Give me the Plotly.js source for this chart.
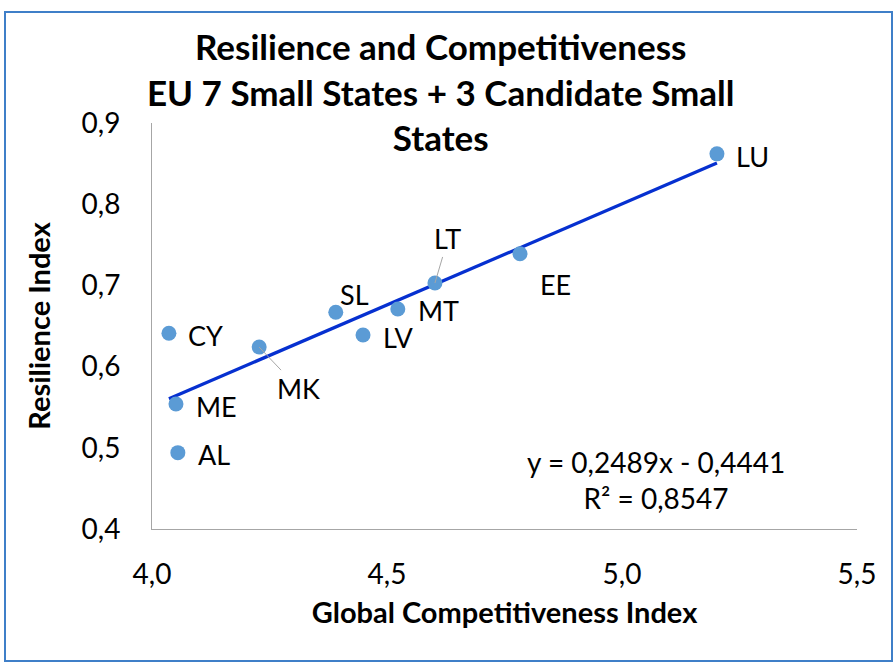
<!DOCTYPE html>
<html>
<head>
<meta charset="utf-8">
<script src="https://cdn.plot.ly/plotly-3.0.1.min.js"></script>
<style>
  html, body { margin: 0; padding: 0; background: #ffffff; }
  #chart { width: 894px; height: 664px; }
</style>
</head>
<body>
<div id="chart"></div>
<script>
// country codes and their two indices
var countries = [ 'CY', 'ME', 'AL', 'MK', 'SL', 'LV', 'MT', 'LT', 'EE', 'LU' ];
var gci = [ 4.036, 4.051, 4.055, 4.228, 4.391, 4.449, 4.523, 4.602, 4.783, 5.202 ];
var resilience = [ 0.641, 0.554, 0.494, 0.624, 0.667, 0.639, 0.671, 0.703, 0.739, 0.862 ];

// linear trendline as printed on the chart
var slope = 0.2489;
var intercept = -0.4441;
var r_squared = 0.8547;

var FONT = 'Lato, "Open Sans", sans-serif';

// margins in pixels, plot area 152..857 x 123..529
var W = 894, H = 664;
var M = { l: 152, r: 37, t: 123, b: 135 };
var pw = W - M.l - M.r;
var ph = H - M.t - M.b;

function px( x ) { return ( x - M.l ) / pw; }
function py( y ) { return ( H - M.b - y ) / ph; }

var x_min = Math.min.apply( null, gci );
var x_max = Math.max.apply( null, gci );

var points =
{
    type: 'scatter',
    mode: 'markers',
    x: gci,
    y: resilience,
    marker: { size: 15, color: '#5b9bd5' },
    hoverinfo: 'text',
    text: countries
};

var trend =
{
    type: 'scatter',
    mode: 'lines',
    x: [ x_min, x_max ],
    y: [ slope * x_min + intercept, slope * x_max + intercept ],
    line: { color: '#0630d0', width: 3.25 },
    hoverinfo: 'skip'
};

// label placement per country: [xshift, yshift] or leader line offsets
var label_offsets =
{
    CY: [ 17, -2 ], ME: [ 18, -3 ], AL: [ 18, -2 ], SL: [ 2, 18 ],
    LV: [ 18, -3 ], MT: [ 18, -2 ], EE: [ 18, -31 ], LU: [ 17, -3 ]
};
var leader_offsets = { MK: [ 39, 41 ], LT: [ 13, -44 ] };

var annotations = [];
for ( var i = 0; i < countries.length; i++ )
{
    var c = countries[ i ];
    if ( leader_offsets[ c ] )
    {
        annotations.push(
            {
                x: gci[ i ], y: resilience[ i ], xref: 'x', yref: 'y',
                text: c, showarrow: true, arrowhead: 0, arrowwidth: 1,
                arrowcolor: '#a6a6a6', standoff: 0,
                ax: leader_offsets[ c ][ 0 ], ay: leader_offsets[ c ][ 1 ],
                font: { family: FONT, size: 27, color: '#000000' }
            }
        );
    }
    else
    {
        annotations.push(
            {
                x: gci[ i ], y: resilience[ i ], xref: 'x', yref: 'y',
                text: c, showarrow: false, xanchor: 'left',
                xshift: label_offsets[ c ][ 0 ], yshift: label_offsets[ c ][ 1 ],
                font: { family: FONT, size: 27, color: '#000000' }
            }
        );
    }
}

var eq_text = 'y = ' + slope.toFixed( 4 ).replace( '.', ',' ) + 'x - ' +
    Math.abs( intercept ).toFixed( 4 ).replace( '.', ',' ) +
    '<br>R² = ' + r_squared.toFixed( 4 ).replace( '.', ',' );

annotations.push(
    {
        xref: 'paper', yref: 'paper', x: px( 656 ), y: py( 480 ),
        xanchor: 'center', yanchor: 'middle', showarrow: false, align: 'center',
        text: eq_text,
        font: { family: FONT, size: 28, color: '#000000' }
    }
);

var layout =
{
    width: W,
    height: H,
    margin: M,
    paper_bgcolor: '#ffffff',
    plot_bgcolor: '#ffffff',
    separators: ', ',
    showlegend: false,
    hovermode: 'closest',
    title:
    {
        text: 'Resilience and Competitiveness<br>EU 7 Small States + 3 Candidate Small<br>States',
        font: { family: FONT, size: 35, color: '#000000', weight: 'bold' },
        x: 0.493, xanchor: 'center',
        y: 1 - 60 / H, yanchor: 'middle'
    },
    xaxis:
    {
        range: [ 4.0, 5.5 ],
        dtick: 0.5,
        tickformat: '.1f',
        showgrid: false,
        zeroline: false,
        showline: true,
        linecolor: '#a6a6a6',
        linewidth: 1,
        ticks: '',
        tickfont: { family: FONT, size: 28, color: '#000000' },
        ticklabelstandoff: 20,
        title:
        {
            text: 'Global Competitiveness Index',
            font: { family: FONT, size: 29, color: '#000000', weight: 'bold' },
            standoff: 14
        }
    },
    yaxis:
    {
        range: [ 0.4, 0.9 ],
        dtick: 0.1,
        tickformat: '.1f',
        showgrid: false,
        zeroline: false,
        showline: true,
        linecolor: '#a6a6a6',
        linewidth: 1,
        ticks: '',
        tickfont: { family: FONT, size: 28, color: '#000000' },
        ticklabelstandoff: 25,
        title:
        {
            text: 'Resilience Index',
            font: { family: FONT, size: 29, color: '#000000', weight: 'bold' },
            standoff: 22
        }
    },
    annotations: annotations,
    shapes:
    [
        {
            type: 'rect',
            xref: 'paper', yref: 'paper',
            x0: px( 5 ), x1: px( 892 ),
            y0: py( 661 ), y1: py( 12 ),
            line: { color: '#3f7fc8', width: 2 }
        }
    ]
};

Plotly.newPlot( 'chart', [ trend, points ], layout, { displayModeBar: false, staticPlot: true } );
</script>
</body>
</html>
